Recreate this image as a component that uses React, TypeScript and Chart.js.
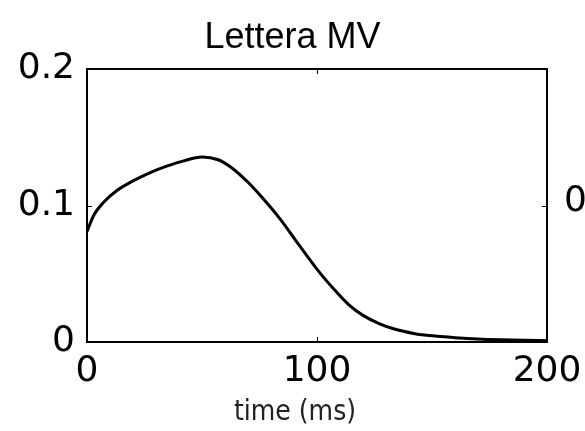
import React, { useEffect, useRef } from "react";
import { Chart, registerables } from "chart.js";

Chart.register(...registerables);

const titleText = "Lettera MV";
const xLabel = "time (ms)";
const xTicks = [0, 100, 200];
const yTicks = [0, 0.1, 0.2];
const sideLabel = "0";

const times = [0, 3, 7, 13, 20, 28, 35, 42, 50, 57, 63, 70, 75, 84, 92, 101, 108, 114, 120, 127, 134, 142, 150, 160, 170, 180, 190, 200];
const values = [0.081, 0.093, 0.102, 0.111, 0.118, 0.1245, 0.129, 0.1327, 0.1355, 0.1335, 0.1275, 0.117, 0.108, 0.09, 0.0715, 0.0512, 0.0375, 0.027, 0.0195, 0.0135, 0.0093, 0.0063, 0.0045, 0.0032, 0.0022, 0.0016, 0.0012, 0.001];

const TICK_FONT = "'DejaVu Sans', sans-serif";
const TITLE_FONT = "'Liberation Sans', Arial, sans-serif";
const LABEL_FONT = "'DejaVu Sans Condensed', 'Liberation Sans Narrow', sans-serif";

const framePlugin = {
  id: "frame",
  afterDatasetsDraw(chart: any) {
    const { ctx, chartArea } = chart;
    const { left, right, top, bottom } = chartArea;
    const xs = chart.scales.x;
    const ys = chart.scales.y;
    ctx.save();
    ctx.strokeStyle = "#000";
    ctx.lineWidth = 2;
    ctx.strokeRect(left, top, right - left, bottom - top);
    ctx.lineWidth = 1;
    const tl = 5;
    xTicks.forEach((t) => {
      if (t === xTicks[0] || t === xTicks[xTicks.length - 1]) return;
      const px = Math.round(xs.getPixelForValue(t)) + 0.5;
      ctx.beginPath();
      ctx.moveTo(px, bottom);
      ctx.lineTo(px, bottom - tl);
      ctx.moveTo(px, top);
      ctx.lineTo(px, top + tl);
      ctx.stroke();
    });
    yTicks.forEach((v) => {
      if (v === yTicks[0] || v === yTicks[yTicks.length - 1]) return;
      const py = Math.round(ys.getPixelForValue(v)) + 0.5;
      ctx.beginPath();
      ctx.moveTo(left, py);
      ctx.lineTo(left + tl, py);
      ctx.moveTo(right, py);
      ctx.lineTo(right - tl, py);
      ctx.stroke();
    });
    // axis label
    ctx.fillStyle = "#222";
    ctx.font = "28px " + LABEL_FONT;
    ctx.textAlign = "center";
    ctx.textBaseline = "middle";
    ctx.fillText(xLabel, 295, 413);
    // partially visible label of the neighbouring panel
    ctx.fillStyle = "#000";
    ctx.font = "36px " + TICK_FONT;
    ctx.textAlign = "left";
    ctx.fillText(sideLabel, 564, ys.getPixelForValue(0.1) - 4);
    ctx.restore();
  },
};

export default function App() {
  const ref = useRef<HTMLCanvasElement | null>(null);
  useEffect(() => {
    document.body.style.margin = "0";
    document.body.style.background = "#fff";
    const canvas = ref.current!;
    const chart = new Chart(canvas, {
      type: "line",
      data: {
        datasets: [
          {
            data: times.map((t, i) => ({ x: t, y: values[i] })),
            borderColor: "#000",
            borderWidth: 3,
            pointRadius: 0,
            cubicInterpolationMode: "monotone",
            fill: false,
          },
        ],
      },
      options: {
        responsive: false,
        animation: false,
        devicePixelRatio: 1,
        layout: { padding: { left: 0, right: 0, top: 0, bottom: 0 } },
        plugins: {
          legend: { display: false },
          tooltip: { enabled: false },
          title: {
            display: true,
            text: titleText,
            color: "#000",
            font: { family: TITLE_FONT, size: 36, weight: "normal" },
            padding: { top: 16, bottom: 9.8 },
          },
        },
        scales: {
          x: {
            type: "linear",
            min: xTicks[0],
            max: xTicks[xTicks.length - 1],
            afterBuildTicks: (s: any) => {
              s.ticks = xTicks.map((v) => ({ value: v }));
            },
            afterFit: (s: any) => {
              s.height = 89;
              s.paddingLeft = 0;
              s.paddingRight = 0;
            },
            grid: { display: false, drawTicks: false },
            border: { display: false },
            ticks: {
              color: "#000",
              padding: 8,
              maxRotation: 0,
              autoSkip: false,
              font: { family: TICK_FONT, size: 36 },
              callback: (v: any) => String(v),
            },
          },
          y: {
            type: "linear",
            min: yTicks[0],
            max: yTicks[yTicks.length - 1],
            afterBuildTicks: (s: any) => {
              s.ticks = yTicks.map((v) => ({ value: v }));
            },
            afterFit: (s: any) => {
              s.width = 87;
              s.paddingTop = 0;
              s.paddingBottom = 0;
            },
            grid: { display: false, drawTicks: false },
            border: { display: false },
            ticks: {
              color: "#000",
              padding: 12,
              autoSkip: false,
              font: { family: TICK_FONT, size: 36 },
              callback: (v: any) => String(v),
            },
          },
          yRight: {
            type: "linear",
            position: "right",
            min: yTicks[0],
            max: yTicks[yTicks.length - 1],
            afterFit: (s: any) => {
              s.width = 38;
              s.paddingTop = 0;
              s.paddingBottom = 0;
            },
            grid: { display: false, drawTicks: false },
            border: { display: false },
            ticks: { display: false },
          },
        },
      },
      plugins: [framePlugin],
    } as any);
    return () => chart.destroy();
  }, []);
  return <canvas ref={ref} width={585} height={431} style={{ display: "block" }} />;
}
